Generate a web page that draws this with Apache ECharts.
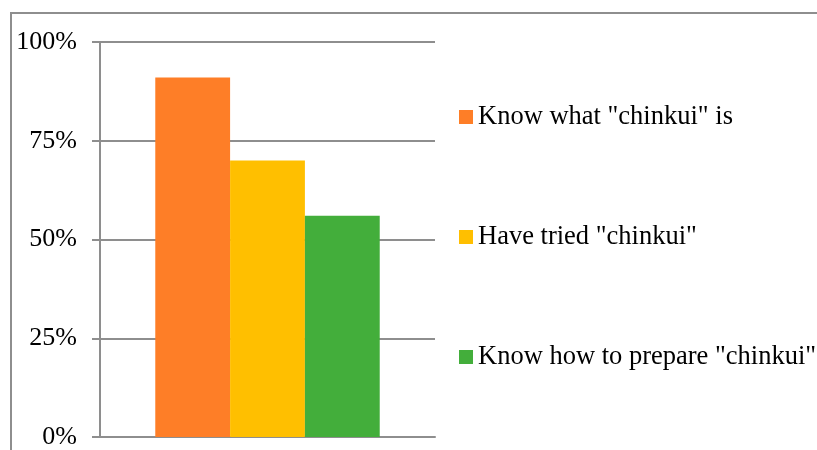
<!DOCTYPE html>
<html>
<head>
<meta charset="utf-8">
<script src="https://cdn.jsdelivr.net/npm/echarts@6/dist/echarts.min.js"></script>
<style>
html,body{margin:0;padding:0;background:#fff;}
#chart{width:817px;height:450px;}
</style>
</head>
<body>
<div id="chart"></div>
<script>
const categories = [''];
const seriesNames = ['Know what "chinkui" is', 'Have tried "chinkui"', 'Know how to prepare "chinkui"'];
const knowWhat = [91];
const haveTried = [70];
const knowHow = [56];
const seriesValues = [knowWhat, haveTried, knowHow];
const seriesColors = ['#fe7e27', '#ffbf00', '#43ae3b'];
const yTicks = [0, 25, 50, 75, 100];

const gray = '#8e8e8e';
const font = '"Liberation Serif", "Times New Roman", serif';

const chart = echarts.init(document.getElementById('chart'), null, {renderer: 'canvas'});
chart.setOption({
  animation: false,
  backgroundColor: '#fff',
  textStyle: {fontFamily: font},
  graphic: [{
    type: 'rect',
    shape: {x: 11, y: 13, width: 1000, height: 600},
    style: {fill: 'none', stroke: gray, lineWidth: 2},
    silent: true,
    z: -10
  }],
  grid: {left: 100, right: 382, top: 42, bottom: 12, containLabel: false},
  legend: {
    orient: 'vertical',
    left: 454,
    top: 97,
    itemWidth: 14,
    itemHeight: 14,
    itemGap: 90,
    icon: 'rect',
    textStyle: {fontFamily: font, fontSize: 26.5, color: '#000', lineHeight: 30},
    data: seriesNames
  },
  xAxis: {
    type: 'category',
    data: categories,
    axisLine: {show: true, lineStyle: {color: gray, width: 2}},
    axisTick: {show: false},
    axisLabel: {show: false},
    splitLine: {show: false}
  },
  yAxis: {
    type: 'value',
    min: yTicks[0],
    max: yTicks[yTicks.length - 1],
    interval: 25,
    axisLine: {show: true, lineStyle: {color: gray, width: 2}},
    axisTick: {show: true, length: 8, lineStyle: {color: gray, width: 2}},
    splitLine: {show: true, lineStyle: {color: gray, width: 2}},
    axisLabel: {
      formatter: v => v + '%',
      fontFamily: font,
      fontSize: 26,
      color: '#000',
      margin: 23
    }
  },
  series: seriesNames.map((name, i) => ({
    name: name,
    type: 'bar',
    data: seriesValues[i],
    itemStyle: {color: seriesColors[i]},
    barGap: '0%',
    barCategoryGap: '33%'
  }))
});
</script>
</body>
</html>
